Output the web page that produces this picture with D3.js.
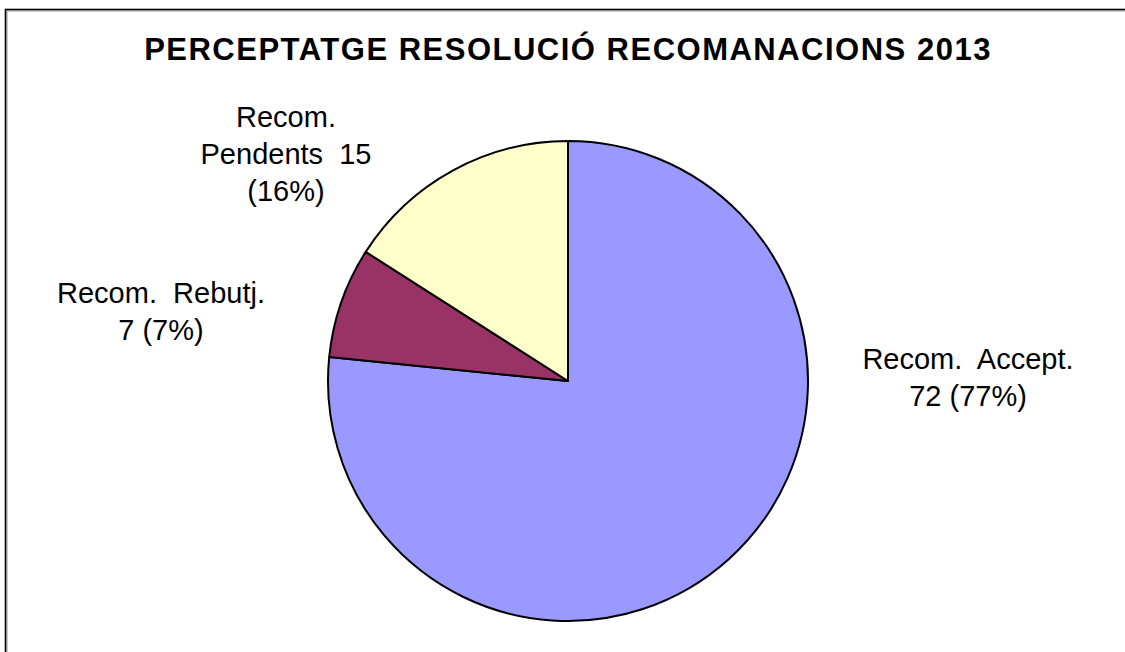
<!DOCTYPE html>
<html>
<head>
<meta charset="utf-8">
<script src="https://cdn.jsdelivr.net/npm/d3@7"></script>
<style>
  body { margin: 0; background: #fff; }
  svg { display: block; }
</style>
</head>
<body>
<svg id="chart" width="1125" height="652"></svg>
<script>
// data
var categories = ["Recom. Accept.", "Recom. Rebutj.", "Recom. Pendents"];
var values = [72, 7, 15];
var colors = ["#9999ff", "#993366", "#ffffcc"];
// label text lines, as printed in the chart
var labelLines = [
  ["Recom.  Accept.", "72 (77%)"],
  ["Recom.  Rebutj.", "7 (7%)"],
  ["Recom.", "Pendents  15", "(16%)"]
];

var svg = d3.select("#chart");

/* chart area border (runs off the right and bottom edge) */
svg.append("rect")
  .attr("x", 7).attr("y", 11)
  .attr("width", 1200).attr("height", 700)
  .style("fill", "none")
  .style("stroke", "#999")
  .style("stroke-width", 1);
svg.append("rect")
  .attr("x", 5.5).attr("y", 9.5)
  .attr("width", 1200).attr("height", 700)
  .style("fill", "none")
  .style("stroke", "#000")
  .style("stroke-width", 1.6);

svg.append("text")
  .attr("x", 568).attr("y", 60)
  .attr("text-anchor", "middle")
  .style("font-family", "'Liberation Sans', Arial, sans-serif")
  .style("font-weight", "bold")
  .style("font-size", "31px")
  .style("letter-spacing", "1.5px")
  .text("PERCEPTATGE RESOLUCIÓ RECOMANACIONS 2013");

var cx = 568, cy = 381, r = 240;

var pie = d3.pie().sort(null).value(function(d) { return d; });
var arc = d3.arc().innerRadius(0).outerRadius(r);

var g = svg.append("g").attr("transform", "translate(" + cx + "," + cy + ")");

g.selectAll("path")
  .data(pie(values))
  .enter().append("path")
  .attr("d", arc)
  .style("fill", function(d, i) { return colors[i]; })
  .style("stroke", "#000")
  .style("stroke-width", 2)
  .style("stroke-linejoin", "round");

/* label anchor points: center x, first baseline y */
var labelPos = [[968, 369], [161, 303], [286, 127]];
var lineH = 37;

labelLines.forEach(function(lines, i) {
  var t = svg.append("text")
    .attr("text-anchor", "middle")
    .style("font-family", "'Liberation Sans', Arial, sans-serif")
    .style("font-size", "29px")
    .style("white-space", "pre")
    .attr("xml:space", "preserve");
  lines.forEach(function(s, j) {
    t.append("tspan")
      .attr("x", labelPos[i][0])
      .attr("y", labelPos[i][1] + j * lineH)
      .text(s);
  });
});
</script>
</body>
</html>
